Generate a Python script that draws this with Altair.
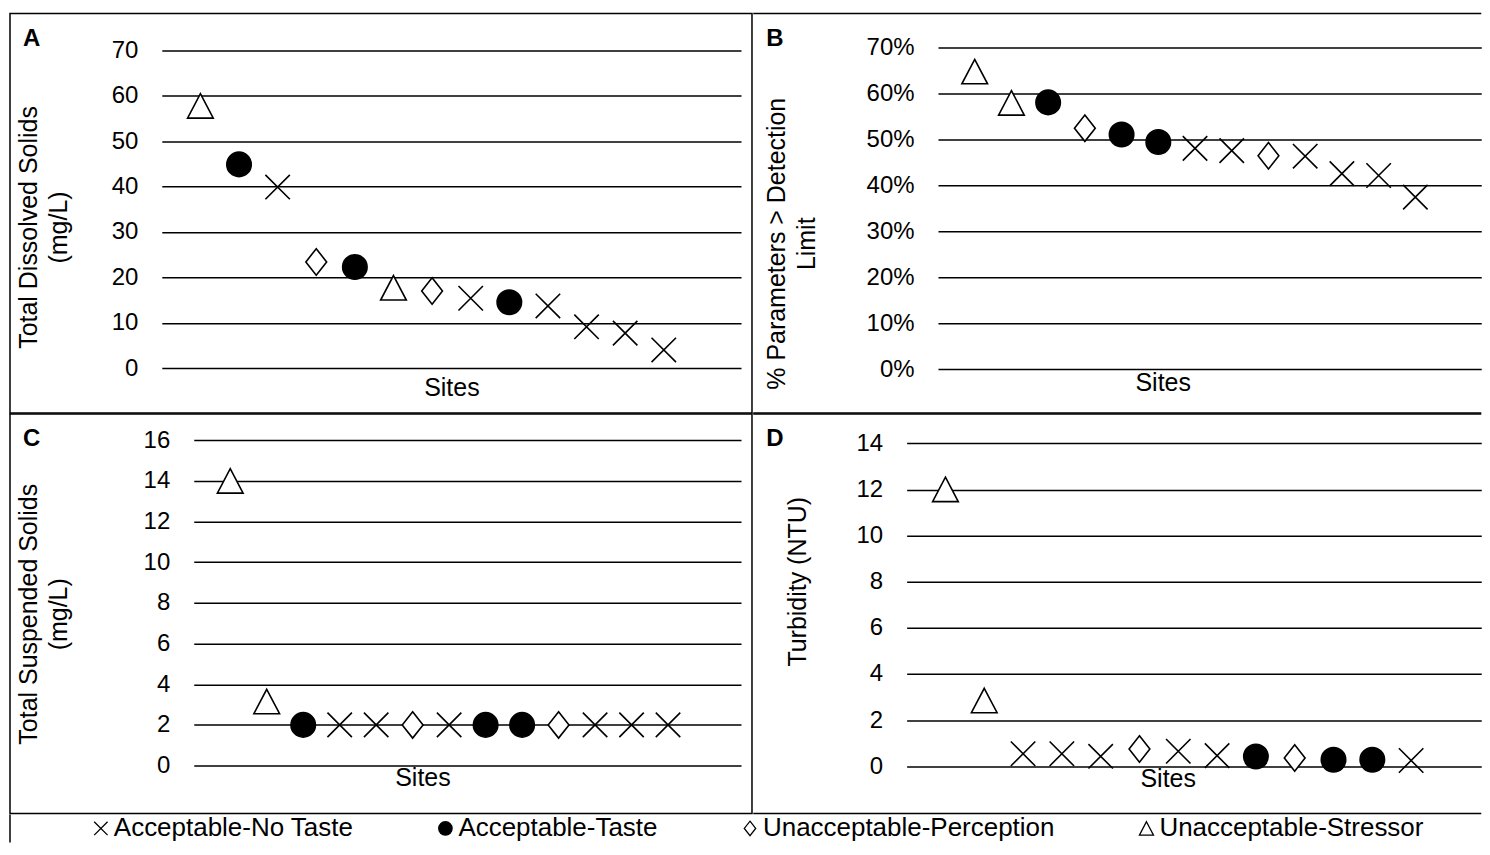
import altair as alt
import pandas as pd

FONT = "Liberation Sans, Arial, sans-serif"

categories = ["Acceptable-No Taste", "Acceptable-Taste",
              "Unacceptable-Perception", "Unacceptable-Stressor"]
code_map = {"N": categories[0], "T": categories[1], "P": categories[2], "S": categories[3]}

sites = list(range(1, 14))

tds_cat = ["S", "T", "N", "P", "T", "S", "P", "N", "T", "N", "N", "N", "N"]
tds_val = [57.8, 44.9, 39.9, 23.4, 22.3, 17.7, 17.0, 15.4, 14.5, 13.7, 9.1, 7.7, 4.0]

det_cat = ["S", "S", "T", "P", "T", "T", "N", "N", "P", "N", "N", "N", "N"]
det_val = [0.647, 0.579, 0.580, 0.524, 0.510, 0.494, 0.480, 0.475, 0.464, 0.463, 0.425, 0.421, 0.374]

tss_cat = ["S", "S", "T", "N", "N", "P", "N", "T", "T", "P", "N", "N", "N"]
tss_val = [14.0, 3.15, 2.0, 2.0, 2.0, 2.0, 2.0, 2.0, 2.0, 2.0, 2.0, 2.0, 2.0]

turb_cat = ["S", "S", "N", "N", "N", "P", "N", "N", "T", "P", "T", "T", "N"]
turb_val = [12.0, 2.85, 0.54, 0.54, 0.43, 0.75, 0.65, 0.46, 0.42, 0.36, 0.28, 0.28, 0.25]

shape_scale = alt.Scale(
    domain=categories,
    range=["M-1,-1L1,1M-1,1L1,-1", "circle", "M0,-1.08L0.85,0L0,1.08L-0.85,0Z", "M0,-1L1.05,1L-1.05,1Z"],
)
fill_scale = alt.Scale(domain=categories, range=["white", "black", "white", "white"])
stroke_scale = alt.Scale(domain=categories, range=["black", "black", "black", "black"])

legend = alt.Legend(
    title=None, orient="none", legendX=78, legendY=803, direction="horizontal",
    columnPadding=79, symbolSize=180, symbolStrokeColor="black", symbolStrokeWidth=1.3,
    labelFont=FONT, labelFontSize=26, labelColor="black", labelOffset=0, labelLimit=1000,
    padding=0, symbolOpacity=1,
)

H = 400


def panel(vals, codes, letter, ymax, ystep, fmt, ytitle, xdom, xr, yr, yoff, ytxy, sxy, w, open_right):
    df = pd.DataFrame({"Site": sites, "Value": vals, "Category": [code_map[c] for c in codes]})
    values = [i * ystep for i in range(int(round(ymax / ystep)) + 1)]
    pts = alt.Chart(df).mark_point(size=600, strokeWidth=1.6, opacity=1).encode(
        x=alt.X("Site:Q",
                scale=alt.Scale(domain=[0, xdom], range=xr, nice=False, zero=False),
                axis=alt.Axis(title="Sites", labels=False, ticks=False, domain=False, grid=False,
                              titleX=sxy[0], titleY=sxy[1], titleAlign="center",
                              titleBaseline="middle", titleAngle=0)),
        y=alt.Y("Value:Q",
                scale=alt.Scale(domain=[0, ymax], range=yr, nice=False),
                axis=alt.Axis(title=ytitle, values=values, format=fmt, offset=yoff,
                              domain=False, ticks=False, grid=True, gridColor="black",
                              gridWidth=1.5, gridOpacity=1, labelPadding=24,
                              titleX=ytxy[0], titleY=ytxy[1], titleAngle=270,
                              titleAlign="center", titleBaseline="middle", titleLineHeight=30)),
        shape=alt.Shape("Category:N", scale=shape_scale, legend=legend),
        fill=alt.Fill("Category:N", scale=fill_scale, legend=legend),
        stroke=alt.Stroke("Category:N", scale=stroke_scale, legend=legend),
    )
    lab = alt.Chart(alt.Data(values=[{"t": letter}])).mark_text(
        align="left", baseline="alphabetic", fontSize=24, fontWeight="bold", font=FONT, color="black"
    ).encode(text="t:N", x=alt.value(13), y=alt.value(32))
    layers = [pts, lab]
    if open_right:
        for yy in (0, H):
            layers.append(
                alt.Chart(alt.Data(values=[{"b": yy}])).mark_rule(color="black", strokeWidth=1.5).encode(
                    x=alt.value(0), x2=alt.value(w), y=alt.value(yy)
                )
            )
        return alt.layer(*layers).properties(width=w, height=H, view=alt.ViewBackground(strokeOpacity=0))
    return alt.layer(*layers).properties(width=w, height=H)


WR = 729  # width of right-hand cells

pA = panel(tds_val, tds_cat, "A", 70, 10, "d", ["Total Dissolved Solids", "(mg/L)"],
           15, [152, 732], [355, 37], -152, [-133, 213.7], [442, -26], 743, False)
pB = panel(det_val, det_cat, "B", 0.7, 0.1, ".0%", ["% Parameters > Detection", "Limit"],
           14.795, [185, WR], [356, 33.7], -185, [-162, 230], [410, -31], WR, True)
pC = panel(tss_val, tss_cat, "C", 16, 2, "d", ["Total Suspended Solids", "(mg/L)"],
           15, [184, 732], [352, 26.3], -184, [-165, 200], [413, -36.3], 743, False)
pD = panel(turb_val, turb_cat, "D", 14, 2, "d", "Turbidity (NTU)",
           14.807, [153.6, WR], [352.7, 29.3], -153.6, [-109.6, 167.5], [415, -35], WR, True)

legend_row = alt.Chart(alt.Data(values=[{"a": 1}])).mark_rule(color="black", strokeWidth=1.5).encode(
    x=alt.value(0), y=alt.value(0), y2=alt.value(28)
).properties(width=1471, height=28, view=alt.ViewBackground(strokeOpacity=0))

chart = alt.vconcat(
    alt.hconcat(pA, pB, spacing=-0.75),
    alt.hconcat(pC, pD, spacing=-0.75),
    legend_row,
    spacing=-1.5,
).properties(
    padding={"left": 1, "top": 4, "right": 0, "bottom": 0}
).configure_view(
    stroke="black", strokeWidth=1.5
).configure_axis(
    labelFont=FONT, titleFont=FONT, labelFontSize=24, titleFontSize=25,
    labelColor="black", titleColor="black", titleFontWeight="normal"
)

chart.save("out.html", embed_options={"renderer": "svg", "actions": False})
